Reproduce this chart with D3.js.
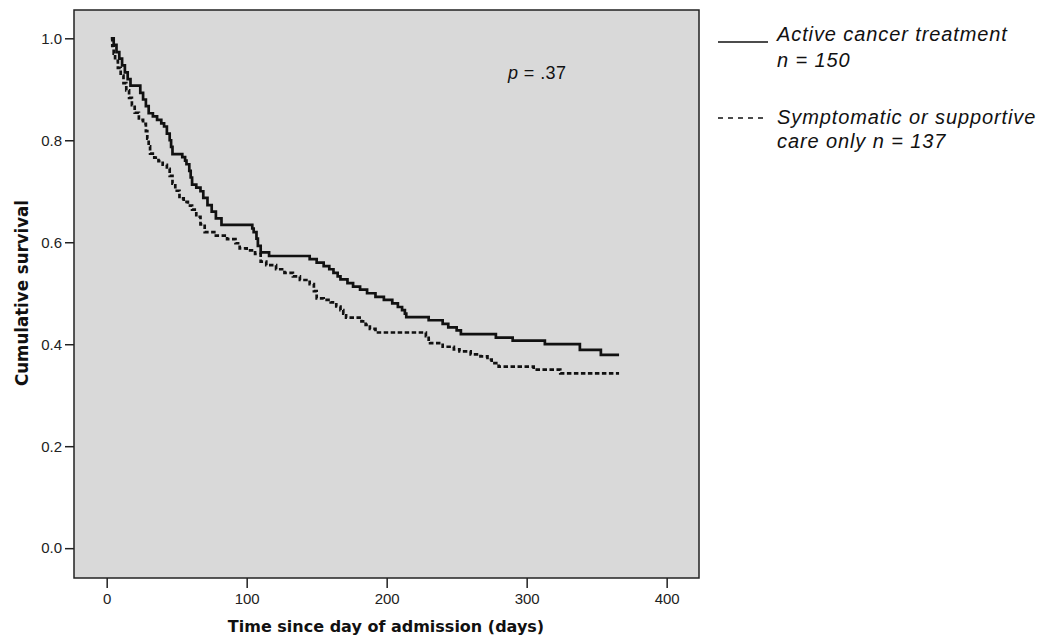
<!DOCTYPE html>
<html><head><meta charset="utf-8">
<script src="https://cdn.jsdelivr.net/npm/d3@7"></script>
<style>body{margin:0;background:#fff}svg{display:block}</style>
</head><body>
<svg id="c" width="1040" height="640"></svg>
<script>
// Kaplan-Meier step points [day, survival]
const activeDays = [3,5,7,9,11,13,15,17,24,26,28,30,33,36,39,41,43,45,46,47,54,56,57,59,60,61,64,67,69,72,75,78,82,104,105,107,108,110,116,145,150,155,159,162,165,167,172,176,181,186,192,198,204,208,211,213,214,230,240,244,250,253,278,290,313,338,353,366];
const activeSurv = [1.0,0.987,0.973,0.96,0.947,0.933,0.92,0.907,0.893,0.88,0.867,0.853,0.847,0.84,0.833,0.827,0.813,0.8,0.787,0.773,0.767,0.76,0.753,0.74,0.727,0.713,0.707,0.70,0.687,0.673,0.66,0.647,0.634,0.627,0.62,0.607,0.593,0.58,0.573,0.567,0.56,0.553,0.547,0.54,0.533,0.527,0.52,0.513,0.507,0.5,0.493,0.487,0.48,0.473,0.467,0.46,0.453,0.447,0.44,0.433,0.427,0.42,0.413,0.407,0.40,0.389,0.379,0.379];
const supportDays = [3,4,5,6,8,10,12,14,16,18,20,23,26,28,29,30,31,34,37,40,43,45,47,49,52,55,58,61,64,67,70,78,86,92,95,100,106,110,114,121,127,133,138,145,148,150,155,160,164,167,169,171,182,185,188,192,228,230,231,240,248,252,260,267,272,275,280,305,324,366];
const supportSurv = [1.0,0.985,0.97,0.956,0.942,0.927,0.912,0.898,0.883,0.869,0.854,0.84,0.832,0.818,0.803,0.788,0.774,0.766,0.759,0.752,0.744,0.73,0.715,0.701,0.686,0.679,0.672,0.664,0.65,0.635,0.62,0.613,0.606,0.598,0.588,0.584,0.577,0.562,0.555,0.547,0.54,0.533,0.526,0.518,0.504,0.49,0.487,0.482,0.474,0.467,0.46,0.452,0.445,0.438,0.43,0.423,0.416,0.409,0.402,0.395,0.39,0.386,0.38,0.376,0.37,0.363,0.356,0.35,0.343,0.343];
const xTicks = [0,100,200,300,400];
const yTicks = [0.0,0.2,0.4,0.6,0.8,1.0];
const legendLabels = [["Active cancer treatment","n = 150"],["Symptomatic or supportive","care only n = 137"]];
const pText = ".37";

const svg = d3.select("#c");
const L = 74, R = 699, T = 10, B = 578;
const x = d3.scaleLinear().domain([-23.35, 423.1]).range([L, R]);
const y = d3.scaleLinear().domain([-0.0585, 1.0555]).range([B, T]);

svg.append("rect").attr("x", L).attr("y", T).attr("width", R - L).attr("height", B - T)
  .attr("fill", "#d9d9d9").attr("stroke", "#222").attr("stroke-width", 1.5);

const xAxis = svg.append("g").attr("transform", `translate(0,${B})`)
  .call(d3.axisBottom(x).tickValues(xTicks).tickSize(10).tickPadding(5).tickFormat(d3.format("d")));
const yAxis = svg.append("g").attr("transform", `translate(${L},0)`)
  .call(d3.axisLeft(y).tickValues(yTicks).tickSize(9).tickPadding(3).tickFormat(d3.format(".1f")));
[xAxis, yAxis].forEach(a => {
  a.attr("font-size", null).attr("font-family", null);
  a.select(".domain").remove();
  a.selectAll(".tick line").attr("stroke", "#222").attr("stroke-width", 1.5);
  a.selectAll(".tick text").attr("fill", "#222").style("font-family", "'Liberation Sans', Arial, sans-serif").style("font-size", "15px");
});

const line = d3.line().x(d => x(d[0])).y(d => y(d[1])).curve(d3.curveStepAfter);
const active = activeDays.map((d, i) => [d, activeSurv[i]]);
const support = supportDays.map((d, i) => [d, supportSurv[i]]);
svg.append("path").datum(support).attr("d", line).attr("fill", "none")
  .attr("stroke", "#111").attr("stroke-width", 2.7).attr("stroke-dasharray", "4.5,2.5");
svg.append("path").datum(active).attr("d", line).attr("fill", "none")
  .attr("stroke", "#111").attr("stroke-width", 2.7);

// p value
const pt = svg.append("text").attr("x", 508).attr("y", 79)
  .style("font-family", "'Liberation Sans', Arial, sans-serif").style("font-size", "18px").style("letter-spacing", "0.4px").attr("fill", "#111");
pt.append("tspan").style("font-style", "italic").text("p");
pt.append("tspan").text(" = " + pText);

// axis titles
svg.append("text").attr("x", 386).attr("y", 632).attr("text-anchor", "middle")
  .style("font-family", "'DejaVu Sans', Verdana, sans-serif").style("font-weight", "bold").style("font-size", "16px")
  .attr("fill", "#111").text("Time since day of admission (days)");
svg.append("text").attr("transform", "translate(28,293) rotate(-90)").attr("text-anchor", "middle")
  .style("font-family", "'Liberation Sans Narrow', 'DejaVu Sans Condensed', sans-serif").style("font-weight", "bold").style("font-size", "18.5px")
  .attr("fill", "#111").text("Cumulative survival");

// legend
const lf = "'Liberation Sans', Arial, sans-serif";
svg.append("line").attr("x1", 718).attr("x2", 768).attr("y1", 42).attr("y2", 42).attr("stroke", "#111").attr("stroke-width", 1.6);
svg.append("line").attr("x1", 718).attr("x2", 768).attr("y1", 118).attr("y2", 118).attr("stroke", "#111").attr("stroke-width", 1.6).attr("stroke-dasharray", "5,5");
const lg = [[41, 67], [124, 148]];
legendLabels.forEach((lines, i) => {
  lines.forEach((t, j) => {
    svg.append("text").attr("x", 777).attr("y", lg[i][j])
      .style("font-family", lf).style("font-style", "italic").style("font-size", "20px").style("letter-spacing", "0.9px")
      .attr("fill", "#111").text(t);
  });
});
</script>
</body></html>
